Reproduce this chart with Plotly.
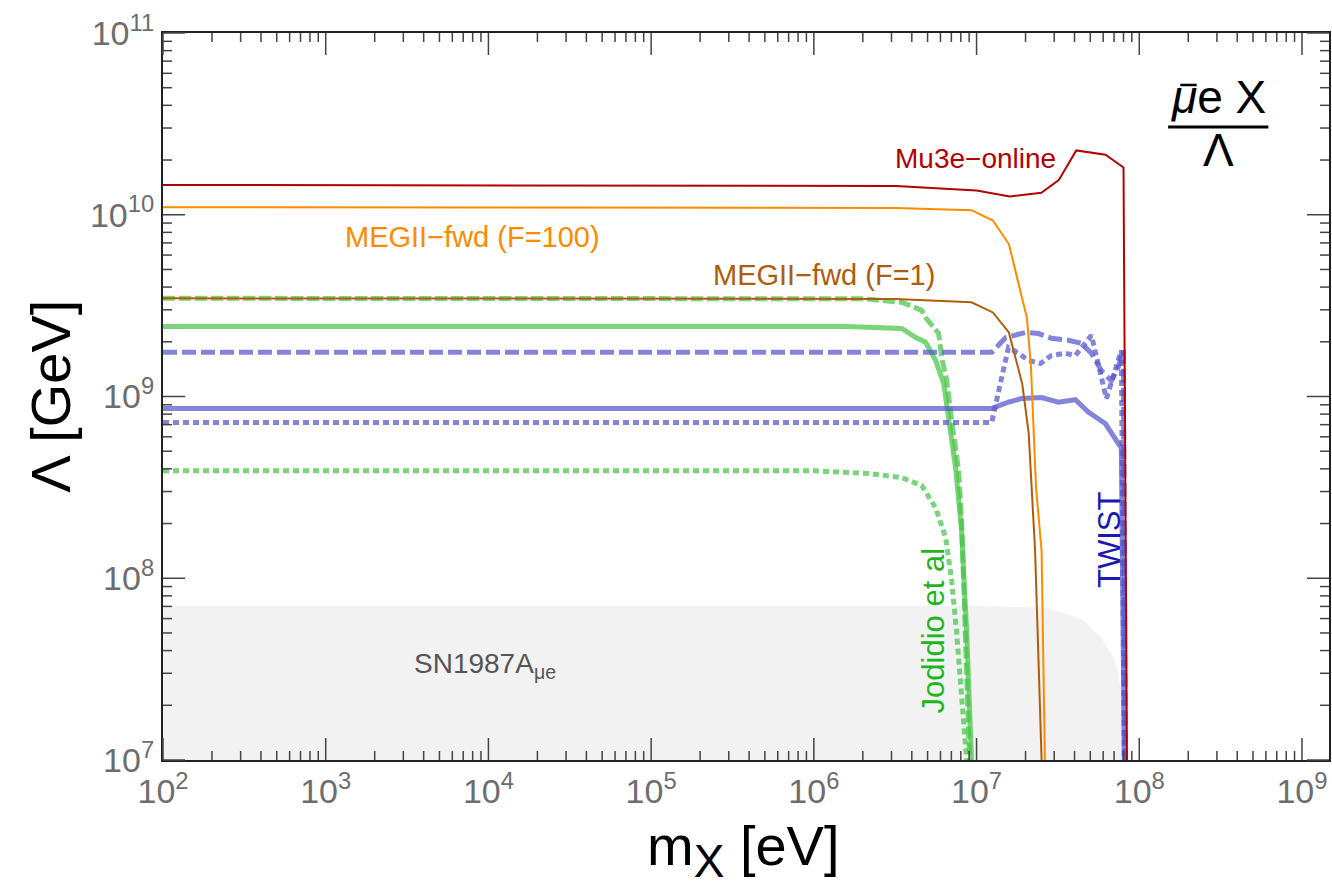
import numpy as np
import plotly.graph_objects as go

# ---------------- data (m_X in eV, Lambda in GeV) ----------------
mu3e_m = [1e2, 3.2e6, 1.0e7, 1.6e7, 2.5e7, 3.2e7, 4.1e7, 6.2e7, 8.0e7, 8.4e7]
mu3e_L = [1.46e10, 1.44e10, 1.36e10, 1.26e10, 1.32e10, 1.55e10, 2.26e10, 2.14e10, 1.82e10, 1e7]

meg100_m = [1e2, 3.16e6, 9.3e6, 1.26e7, 1.58e7, 2.04e7, 2.16e7, 2.32e7, 2.51e7, 2.63e7]
meg100_L = [1.10e10, 1.09e10, 1.06e10, 9.3e9, 6.9e9, 2.7e9, 1.45e9, 3.16e8, 1.41e8, 1e7]

meg1_m = [1e2, 3.16e6, 9.3e6, 1.26e7, 1.58e7, 1.91e7, 2.09e7, 2.19e7, 2.29e7, 2.51e7]
meg1_L = [3.47e9, 3.44e9, 3.30e9, 2.90e9, 2.25e9, 1.17e9, 6.3e8, 2.7e8, 1.41e8, 1e7]

jod_solid_m = [1e2, 1.58e6, 3.47e6, 4.23e6, 4.86e6, 5.6e6, 6.28e6, 6.73e6, 7.43e6, 8.09e6, 8.69e6, 9.31e6]
jod_solid_L = [2.43e9, 2.43e9, 2.37e9, 2.11e9, 1.99e9, 1.58e9, 1.18e9, 7.7e8, 4.06e8, 1.83e8, 5.1e7, 1e7]

jod_dash_m = [1e2, 2.0e6, 3.47e6, 4.6e6, 4.86e6, 5.85e6, 6.1e6, 6.55e6, 7.03e6, 7.76e6, 8.09e6, 8.57e6, 9.06e6]
jod_dash_L = [3.47e9, 3.45e9, 3.30e9, 2.98e9, 2.72e9, 2.22e9, 1.64e9, 1.23e9, 7.4e8, 3.9e8, 2.07e8, 5.1e7, 1e7]

jod_dot_m = [1e2, 1e6, 2.17e6, 3.47e6, 4.6e6, 5.6e6, 6.46e6, 7.03e6, 7.53e6, 8.09e6, 8.69e6]
jod_dot_L = [3.9e8, 3.9e8, 3.77e8, 3.58e8, 3.24e8, 2.44e8, 1.67e8, 9.7e7, 5.1e7, 2.2e7, 1e7]

twist_solid_m = [1e2, 1.24e7, 1.57e7, 1.89e7, 2.51e7, 3.18e7, 4.05e7, 4.86e7, 6.18e7, 7.76e7, 8.09e7]
twist_solid_L = [8.6e8, 8.6e8, 9.3e8, 9.75e8, 9.86e8, 9.3e8, 9.6e8, 8.2e8, 7.1e8, 5.2e8, 1e7]

twist_dash_m = [1e2, 1.24e7, 1.51e7, 2.0e7, 2.4e7, 2.88e7, 3.66e7, 4.41e7, 5.08e7, 5.85e7, 6.73e7, 7.43e7, 7.98e7, 8.2e7]
twist_dash_L = [1.75e9, 1.75e9, 2.11e9, 2.25e9, 2.22e9, 2.09e9, 2.04e9, 1.96e9, 1.73e9, 1.39e9, 1.22e9, 1.45e9, 1.79e9, 1e7]

twist_dot_m = [1e2, 1.24e7, 1.40e7, 1.57e7, 1.81e7, 2.08e7, 2.47e7, 2.88e7, 3.52e7, 4.05e7, 5.08e7, 6.28e7, 7.76e7, 8.09e7]
twist_dot_L = [7.2e8, 7.2e8, 1.18e9, 1.86e9, 1.73e9, 1.58e9, 1.52e9, 1.68e9, 1.73e9, 1.68e9, 2.17e9, 9.75e8, 1.79e9, 1e7]

sn_m = [1e2, 1e7, 2.77e7, 4.41e7, 5.85e7, 7.13e7, 7.98e7, 8.57e7]
sn_L = [7.05e7, 7.05e7, 6.87e7, 5.98e7, 4.7e7, 3.5e7, 2.11e7, 1e7]

x_decades = [2, 3, 4, 5, 6, 7, 8, 9]
y_decades = [7, 8, 9, 10, 11]
x_range_log = [2, 9.166]
y_range_log = [7, 11]

# ---------------- colours ----------------
C_RED = "#b30000"
C_ORANGE = "#ff8a00"
C_BROWN = "#b05c0a"
C_GREEN = "rgba(70,195,70,0.72)"
C_BLUE = "rgba(85,85,205,0.72)"
C_GREEN_TXT = "#1fb51f"
C_BLUE_TXT = "#1a1ab0"
TICK_C = "#444444"
FONT = "Liberation Sans, Arial, sans-serif"

fig = go.Figure()

# SN1987A region (closed polygon down to the axis bottom)
xmin, ymin = 10 ** x_range_log[0], 10 ** y_range_log[0]
fig.add_trace(go.Scatter(
    x=sn_m + [sn_m[-1], xmin], y=sn_L + [ymin, ymin],
    fill="toself", fillcolor="#f2f2f2", mode="lines",
    line=dict(width=0, color="#f2f2f2"), hoverinfo="skip", showlegend=False))

def add_line(m, L, color, width, dash="solid"):
    fig.add_trace(go.Scatter(x=m, y=L, mode="lines",
                             line=dict(color=color, width=width, dash=dash),
                             showlegend=False))

add_line(jod_dot_m, jod_dot_L, C_GREEN, 5, "6px,4px")
add_line(jod_solid_m, jod_solid_L, C_GREEN, 5)
add_line(jod_dash_m, jod_dash_L, C_GREEN, 5, "12px,4px")
add_line(twist_solid_m, twist_solid_L, C_BLUE, 5)
add_line(twist_dash_m, twist_dash_L, C_BLUE, 5, "14px,5px")
add_line(twist_dot_m, twist_dot_L, C_BLUE, 5, "6px,4px")
add_line(meg1_m, meg1_L, C_BROWN, 2)
add_line(meg100_m, meg100_L, C_ORANGE, 2)
add_line(mu3e_m, mu3e_L, C_RED, 2)

# ---------------- axes ----------------
tickfont = dict(family=FONT, size=34, color="#6d6d6d")
common = dict(type="log", showgrid=False, zeroline=False, showline=True,
              linecolor="#222222", linewidth=2, mirror=True, ticks="",
              tickfont=tickfont, tickmode="array")

fig.update_xaxes(range=x_range_log,
                 tickvals=[10 ** d for d in x_decades],
                 ticktext=[f"10<sup>{d}</sup>" for d in x_decades], **common)
fig.update_yaxes(range=y_range_log,
                 tickvals=[10 ** d for d in y_decades],
                 ticktext=[f"10<sup>{d}</sup>" for d in y_decades], **common)

# inward tick marks on all four sides (major = decades, minor = 2..9 x decade)
def tick_positions(decs, rng):
    out = []
    for e in decs:
        for d in range(1, 10):
            lv = e + np.log10(d)
            if rng[0] - 1e-9 <= lv <= rng[1] + 1e-9:
                out.append(((lv - rng[0]) / (rng[1] - rng[0]), d == 1))
    return out

MAJ, MIN = 22, 9
for p, major in tick_positions(x_decades, x_range_log):
    L = MAJ if major else MIN
    for anchor, sgn in ((0, 1), (1, -1)):
        fig.add_shape(type="line", xref="paper", yref="paper",
                      ysizemode="pixel", yanchor=anchor,
                      x0=p, x1=p, y0=0, y1=sgn * L,
                      line=dict(color=TICK_C, width=1.5), layer="above")
for p, major in tick_positions(y_decades, y_range_log):
    L = MAJ if major else MIN
    for anchor, sgn in ((0, 1), (1, -1)):
        fig.add_shape(type="line", xref="paper", yref="paper",
                      xsizemode="pixel", xanchor=anchor,
                      x0=0, x1=sgn * L, y0=p, y1=p,
                      line=dict(color=TICK_C, width=1.5), layer="above")

# ---------------- labels ----------------
def label(text, lx, ly, color, size=29, angle=0):
    fig.add_annotation(x=lx, y=ly, xref="x", yref="y", text=text, showarrow=False,
                       textangle=angle, font=dict(family=FONT, size=size, color=color),
                       xanchor="center", yanchor="middle")

label("Mu3e\u2212online", 6.994, 10.311, C_RED, size=28)
label("MEGII\u2212fwd (F=100)", 3.902, 9.876, C_ORANGE)
label("MEGII\u2212fwd (F=1)", 6.061, 9.667, C_BROWN)
label("SN1987A<sub>\u03bce</sub>", 3.98, 7.518, "#555555", size=28)
label("Jodidio et al", 6.736, 7.711, C_GREEN_TXT, size=31, angle=-90)
label("TWIST", 7.816, 8.212, C_BLUE_TXT, size=31, angle=-90)

# coupling formula  (mu-bar e X / Lambda)
label("<i>\u03bc</i>e X", 8.485, 10.647, "black", size=46)
label("\u039b", 8.485, 10.355, "black", size=46)
fig.add_shape(type="line", xref="paper", yref="paper",
              x0=0.862, x1=0.948, y0=0.8707, y1=0.8707,
              line=dict(color="black", width=3))
fig.add_shape(type="line", xref="paper", yref="paper",
              x0=0.8725, x1=0.8865, y0=0.9285, y1=0.9285,
              line=dict(color="black", width=2.5))

# axis titles
fig.add_annotation(x=-0.0967, y=0.5, xref="paper", yref="paper",
                   text="\u039b [GeV]", textangle=-90, showarrow=False,
                   font=dict(family=FONT, size=56, color="black"),
                   xanchor="center", yanchor="middle")
fig.add_annotation(x=0.498, y=-0.124, xref="paper", yref="paper",
                   text="m<sub><span style='font-size:46px'>X</span></sub> [eV]",
                   showarrow=False,
                   font=dict(family=FONT, size=56, color="black"),
                   xanchor="center", yanchor="middle")

fig.update_layout(width=1332, height=893,
                  margin=dict(l=163, r=1, t=33, b=133),
                  paper_bgcolor="white", plot_bgcolor="white",
                  showlegend=False)

fig.write_html("out.html")
